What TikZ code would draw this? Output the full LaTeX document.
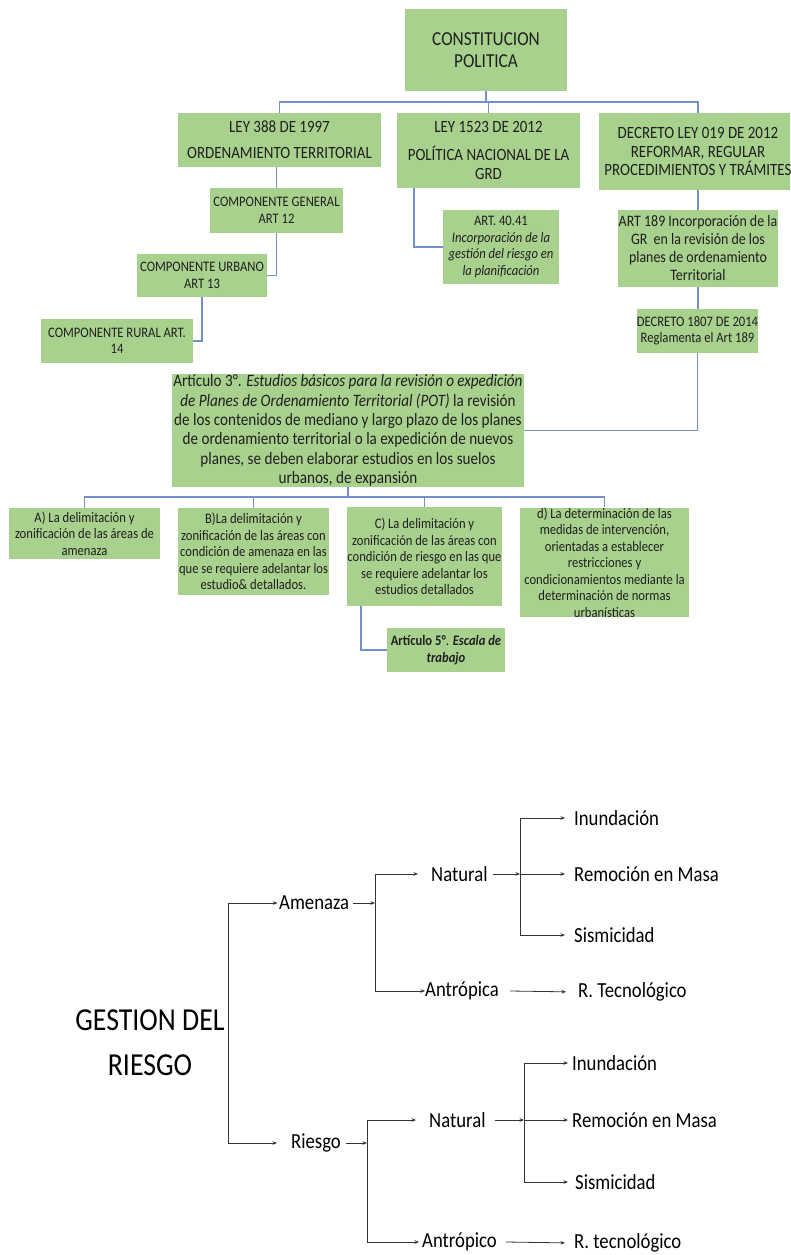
\documentclass[tikz,border=0pt]{standalone}
\usepackage{fontspec}
\setmainfont{Carlito}[FakeStretch=0.87]
\usetikzlibrary{arrows.meta,calc}
\definecolor{boxg}{HTML}{A9D18E}
\definecolor{lnk}{HTML}{7391C9}
\definecolor{txt}{HTML}{1F1F1F}
\tikzset{
  gbox/.style={fill=boxg, draw=none, inner sep=0pt, align=center, text=txt},
  fsmall/.style={font=\fontsize{14.5}{16.5}\selectfont},
  fhead/.style={font=\fontsize{17.2}{18.5}\selectfont},
  link/.style={draw=lnk, line width=1.6pt},
  lbl/.style={inner sep=0pt, anchor=west, font=\fontsize{21.5}{24}\selectfont},
  arr/.style={draw=black!80, line width=0.8pt, -{Stealth[length=4.5pt,width=3.6pt]}},
  bar/.style={draw=black!80, line width=0.8pt}
}
\begin{document}
\begin{tikzpicture}[x=1pt,y=-1pt]
\useasboundingbox (0,0) rectangle (790,1255);
\fill[white] (0,0) rectangle (790,1255);
\clip (0,0) rectangle (790,1255);
% ---------- top chart ----------
\node[gbox, minimum width=162pt, minimum height=82pt, font=\fontsize{19.8}{22}\selectfont] (const) at (486,50) {CONSTITUCION\\POLITICA};
\node[gbox, fhead, minimum width=203pt, minimum height=54pt] (ley388) at (279.5,140) {LEY 388 DE 1997\\[7.5pt]ORDENAMIENTO TERRITORIAL};
\node[gbox, fhead, minimum width=183pt, minimum height=75pt] (ley1523) at (488.5,150.5) {LEY 1523 DE 2012\\[9.5pt]POLÍTICA NACIONAL DE LA\\GRD};
\node[gbox, fhead, minimum width=198pt, minimum height=77pt] (decreto) at (698,151.5) {DECRETO LEY 019 DE 2012\\REFORMAR, REGULAR\\PROCEDIMIENTOS Y TRÁMITES};
\node[gbox, fsmall, minimum width=133pt, minimum height=45pt] (compgen) at (276.5,210.5) {COMPONENTE GENERAL\\ART 12};
\node[gbox, fsmall, minimum width=130pt, minimum height=43pt] (compurb) at (202,275.5) {COMPONENTE URBANO\\ART 13};
\node[gbox, fsmall, minimum width=152pt, minimum height=44pt] (comprur) at (117,341) {COMPONENTE RURAL ART.\\14};
\node[gbox, fsmall, minimum width=116pt, minimum height=74pt] (art4041) at (501,247) {ART. 40.41\\\textit{Incorporación de la}\\\textit{gestión del riesgo en}\\\textit{la planificación}};
\node[gbox, minimum width=160pt, minimum height=77pt, font=\fontsize{16}{18}\selectfont] (art189) at (698,248.5) {ART 189 Incorporación de la\\GR\ \ en la revisión de los\\planes de ordenamiento\\Territorial};
\node[gbox, fsmall, minimum width=121pt, minimum height=44pt] (dec1807) at (697.5,331) {DECRETO 1807 DE 2014\\Reglamenta el Art 189};
\node[gbox, minimum width=352pt, minimum height=113pt, font=\fontsize{17.4}{19.3}\selectfont] (art3) at (348,430.5) {Artículo 3°. \textit{Estudios básicos para la revisión o expedición}\\\textit{de Planes de Ordenamiento Territorial (POT)} la revisión\\de los contenidos de mediano y largo plazo de los planes\\de ordenamiento territorial o la expedición de nuevos\\planes, se deben elaborar estudios en los suelos\\urbanos, de expansión};
\node[gbox, fsmall, minimum width=151pt, minimum height=51pt] (boxA) at (84.5,533.5) {A) La delimitación y\\zonificación de las áreas de\\amenaza};
\node[gbox, fsmall, minimum width=151pt, minimum height=87pt] (boxB) at (253.5,551.5) {B)La delimitación y\\zonificación de las áreas con\\condición de amenaza en las\\que se requiere adelantar los\\estudio\& detallados.};
\node[gbox, fsmall, minimum width=153pt, minimum height=99pt] (boxC) at (424.5,556.5) {C) La delimitación y\\zonificación de las áreas con\\condición de riesgo en las que\\se requiere adelantar los\\estudios detallados};
\node[gbox, fsmall, minimum width=169pt, minimum height=109pt] (boxD) at (604.5,562.5) {d) La determinación de las\\medidas de intervención,\\orientadas a establecer\\restricciones y\\condicionamientos mediante la\\determinación de normas\\urbanísticas};
\node[gbox, fsmall, minimum width=118pt, minimum height=44pt] (art5) at (446,650) {\textbf{Artículo 5°}. \textbf{\textit{Escala de}}\\\textbf{\textit{trabajo}}};
% connectors
\coordinate (b1) at (486,102);
\draw[link] (const.south) -- (b1);
\draw[link] (ley388.north) |- (b1) -| (decreto.north);
\draw[link] (b1 -| ley1523.north) -- (ley1523.north);
\draw[link] (ley388.south -| compgen.north) -- (compgen.north);
\draw[link] (compgen.south) |- (compurb.east);
\draw[link] (compurb.south) |- (comprur.east);
\draw[link] ($(ley1523.south west)+(17,0)$) |- (art4041.west);
\draw[link] (decreto.south) -- (art189.north);
\draw[link] (art189.south) -- (art189.south |- dec1807.north);
\draw[link] (dec1807.south) |- (art3.east);
\coordinate (b2) at (348,497);
\draw[link] (art3.south) -- (b2);
\draw[link] (boxA.north) |- (b2) -| (boxD.north);
\draw[link] (b2 -| boxB.north) -- (boxB.north);
\draw[link] (b2 -| boxC.north) -- (boxC.north);
\draw[link] ($(boxC.south west)+(14,0)$) |- (art5.west);
% ---------- bottom tree ----------
\node[inner sep=0pt, align=center, font=\fontsize{32}{45}\selectfont] (gest) at (150,1043) {GESTION DEL\\RIESGO};
\coordinate (vt) at (228,903);
\coordinate (vb) at (228,1143);
\node[lbl] (amen) at (279,903) {Amenaza};
\node[lbl] (rie) at (291,1143) {Riesgo};
\draw[bar] (vt) -- (vb);
\draw[arr, shorten >=1.5pt] (vt) -- (amen.west);
\draw[arr, shorten >=14pt] (vb) -- (rie.west);
% amenaza
\coordinate (aT) at (375,874);
\coordinate (aB) at (375,991);
\node[lbl] (natA) at (431,874) {Natural};
\node[lbl] (antA) at (425,991) {Antrópica};
\draw[arr] ([xshift=4pt]amen.east) -- (amen.east -| aT);
\draw[bar] (aT) -- (aB);
\draw[arr, shorten >=13pt] (aT) -- (natA.west);
\draw[arr] (aB) -- (antA.west);
\coordinate (nT) at (520,818);
\coordinate (nB) at (520,935);
\node[lbl] (inA) at (574,818) {Inundación};
\node[lbl] (reA) at (574,874) {Remoción en Masa};
\node[lbl] (siA) at (574,935) {Sismicidad};
\draw[arr] ([xshift=5pt]natA.east) -- (natA.east -| nT);
\draw[bar] (nT) -- (nB);
\draw[arr, shorten >=9pt] (nT) -- (inA.west);
\draw[arr, shorten >=9pt] (natA.east -| nT) -- (reA.west);
\draw[arr, shorten >=9pt] (nB) -- (siA.west);
\node[lbl] (rtA) at (578,992) {R. Tecnológico};
\draw[arr, shorten >=12pt] ([xshift=11pt]antA.east) -- (rtA.west);
% riesgo
\coordinate (rT) at (367,1120);
\coordinate (rB) at (367,1242);
\node[lbl] (natR) at (429,1120) {Natural};
\node[lbl] (antR) at (422,1242) {Antrópico};
\draw[arr] ([xshift=5pt]rie.east) -- (rie.east -| rT);
\draw[bar] (rT) -- (rB);
\draw[arr, shorten >=13pt] (rT) -- (natR.west);
\draw[arr, shorten >=3pt] (rB) -- (antR.west);
\coordinate (n2T) at (524,1063);
\coordinate (n2B) at (524,1182);
\node[lbl] (inR) at (572,1063) {Inundación};
\node[lbl] (reR) at (572,1120) {Remoción en Masa};
\node[lbl] (siR) at (575,1182) {Sismicidad};
\draw[arr] ([xshift=9pt]natR.east) -- (natR.east -| n2T);
\draw[bar] (n2T) -- (n2B);
\draw[arr, shorten >=4pt] (n2T) -- (inR.west);
\draw[arr, shorten >=4pt] (natR.east -| n2T) -- (reR.west);
\draw[arr, shorten >=7pt] (n2B) -- (siR.west);
\node[lbl] (rtR) at (574,1243) {R. tecnológico};
\draw[arr, shorten >=9pt] ([xshift=9pt]antR.east) -- (rtR.west);
\end{tikzpicture}
\end{document}
